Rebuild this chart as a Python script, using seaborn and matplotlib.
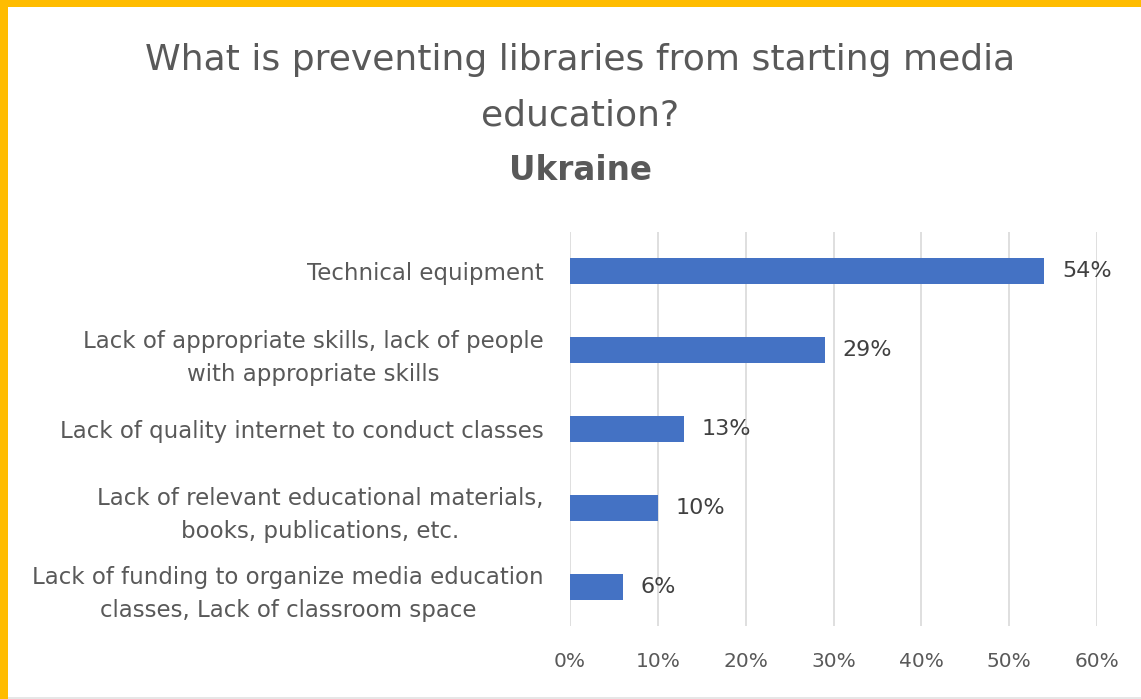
import matplotlib
matplotlib.use("Agg")
import matplotlib.pyplot as plt
from matplotlib.patches import Rectangle
from matplotlib.ticker import FuncFormatter, MultipleLocator
import seaborn as sns
import pandas as pd

categories = [
    "Technical equipment",
    "Lack of appropriate skills, lack of people\nwith appropriate skills",
    "Lack of quality internet to conduct classes",
    "Lack of relevant educational materials,\nbooks, publications, etc.",
    "Lack of funding to organize media education\nclasses, Lack of classroom space",
]
shares = [54, 29, 13, 10, 6]

df = pd.DataFrame({"reason": categories, "share": shares})

sns.set_theme(style="white")
plt.rcParams["font.family"] = ["DejaVu Sans"]

W, H = 1141, 699
fig = plt.figure(figsize=(W / 100, H / 100), dpi=100)
fig.patch.set_facecolor("white")

ax = fig.add_axes([570 / W, 1 - 626 / H, (1097 - 570) / W, (626 - 232) / H])
sns.barplot(data=df, x="share", y="reason", orient="h", color="#4472C4",
            saturation=1, width=0.33, ax=ax, edgecolor="none")

ax.set_xlim(0, 60)
ax.xaxis.set_major_locator(MultipleLocator(10))
ax.xaxis.set_major_formatter(FuncFormatter(lambda v, p: f"{int(round(v))}%"))
ax.grid(axis="x", color="#D9D9D9", linewidth=1.2)
ax.set_axisbelow(True)
for s in ax.spines.values():
    s.set_visible(False)
ax.set_xlabel("")
ax.set_ylabel("")
ax.tick_params(axis="x", length=0, pad=19, labelsize=14.5, labelcolor="#595959")
ax.tick_params(axis="y", length=0, pad=19, labelsize=16.5, labelcolor="#595959")
for lbl in ax.get_yticklabels():
    lbl.set_horizontalalignment("right")
    lbl.set_multialignment("center")
    lbl.set_linespacing(1.55)

for i, v in enumerate(shares):
    ax.text(v + 2.0, i, f"{v}%", va="center", ha="left", fontsize=16,
            color="#404040")

# title block
fig.text(580 / W, 1 - 60 / H, "What is preventing libraries from starting media",
         ha="center", va="center", fontsize=26, color="#595959")
fig.text(580 / W, 1 - 115 / H, "education?",
         ha="center", va="center", fontsize=26, color="#595959")
fig.text(580 / W, 1 - 170 / H, "Ukraine",
         ha="center", va="center", fontsize=23.5, fontweight="bold", color="#595959")

# frame accents
fig.patches.append(Rectangle((0, 0), 8 / W, 1, transform=fig.transFigure,
                             facecolor="#FFBC00", edgecolor="none", zorder=5))
fig.patches.append(Rectangle((0, 1 - 7 / H), 1, 7 / H, transform=fig.transFigure,
                             facecolor="#FFBC00", edgecolor="none", zorder=5))
fig.patches.append(Rectangle((8 / W, 0), 1, 2 / H, transform=fig.transFigure,
                             facecolor="#E6E6E6", edgecolor="none", zorder=5))

fig.savefig("out.png", dpi=100)
